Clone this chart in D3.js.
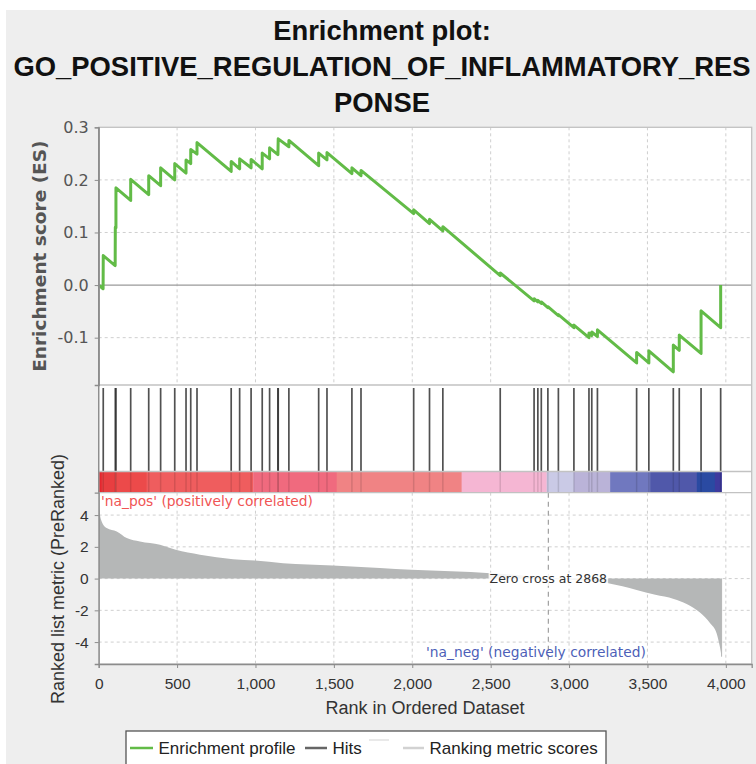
<!DOCTYPE html>
<html>
<head>
<meta charset="utf-8">
<title>Enrichment plot</title>
<script src="https://cdn.jsdelivr.net/npm/d3@7"></script>
<style>
body { margin: 0; background: #fff; }
svg { display: block; }
.grid line { stroke: #cfcfcf; stroke-dasharray: 3,3; }
.axis path, .axis line { stroke: #8c8c8c; }
.es-axis text { font: 16px "DejaVu Sans", sans-serif; fill: #555; }
.m-axis text { font: 15.5px "Liberation Sans", Arial, sans-serif; fill: #333; }
</style>
</head>
<body>
<svg id="chart" width="756" height="764"></svg>
<script>
// ---- data ----
var titleLines = ["Enrichment plot:", "GO_POSITIVE_REGULATION_OF_INFLAMMATORY_RES", "PONSE"];

// running enrichment score: rank, ES (before/after each hit)
var esRanks = [0, 28, 29, 105, 106, 110, 110, 204, 204, 319, 319, 395, 395, 485, 485, 557, 557, 587, 587, 627, 627,
  845, 845, 899, 899, 972, 972, 1043, 1043, 1090, 1090, 1143, 1145, 1213, 1213, 1403, 1403, 1456, 1456,
  1615, 1615, 1673, 1673, 2009, 2009, 2110, 2110, 2195, 2195, 2561, 2561, 2777, 2777, 2801, 2801, 2823, 2823,
  2865, 2865, 2932, 2932, 3031, 3031, 3127, 3127, 3145, 3145, 3181, 3181, 3431, 3431, 3509, 3509,
  3665, 3665, 3703, 3703, 3842, 3842, 3967, 3967];
var esScores = [0, -0.007, 0.056, 0.037, 0.11, 0.109, 0.185, 0.161, 0.201, 0.172, 0.208, 0.189, 0.223, 0.200, 0.231,
  0.213, 0.238, 0.231, 0.258, 0.249, 0.271, 0.216, 0.235, 0.221, 0.240, 0.223, 0.239, 0.221, 0.251, 0.240, 0.261,
  0.248, 0.278, 0.263, 0.275, 0.227, 0.251, 0.238, 0.252, 0.212, 0.223, 0.208, 0.218, 0.136, 0.143, 0.117, 0.125,
  0.103, 0.111, 0.018, 0.023, -0.030, -0.026, -0.032, -0.029, -0.035, -0.032, -0.043, -0.041, -0.058, -0.056,
  -0.081, -0.076, -0.100, -0.091, -0.096, -0.089, -0.098, -0.085, -0.148, -0.128, -0.148, -0.125,
  -0.165, -0.114, -0.124, -0.095, -0.130, -0.049, -0.081, 0.0];

// gene set members in the ranked list
var hitRanks = [29, 106, 110, 204, 319, 395, 485, 557, 587, 627, 845, 899, 972, 1043, 1090, 1143, 1145, 1213,
  1403, 1456, 1615, 1673, 2009, 2110, 2195, 2561, 2777, 2801, 2823, 2865, 2932, 3031, 3127, 3145, 3181,
  3431, 3509, 3665, 3703, 3842, 3967];

// ranked list metric
var metricRanks = [0, 8, 19, 51, 115, 179, 263, 391, 491, 646, 857, 997, 1176, 1492, 1794, 1994, 2500, 2730, 2868,
  3050, 3250, 3431, 3550, 3668, 3750, 3835, 3900, 3941, 3962, 3973];
var metricValues = [4.6, 4.0, 3.6, 3.18, 2.97, 2.55, 2.33, 2.13, 1.81, 1.5, 1.22, 1.14, 0.97, 0.82, 0.66, 0.55, 0.34, 0.17, 0,
  -0.1, -0.3, -0.72, -1.02, -1.28, -1.6, -2.14, -2.81, -3.44, -4.29, -4.92];

// colour bar under the hits
var barBreaks = [0, 19, 105, 306, 986, 1518, 2315, 2857, 3031, 3262, 3517, 3815, 3930, 3973];
var barColors = ["#e4262e", "#e83e40", "#ec4a4a", "#ef5d5e", "#f06a7e", "#f08384", "#f5b6d3", "#cacae6",
  "#bab3d8", "#7078bf", "#5058aa", "#2a4aa2", "#3e3a9e"];

var esTicks = [-0.1, 0, 0.1, 0.2, 0.3];
var metricTicks = [-4, -2, 0, 2, 4];
var rankTicks = [0, 500, 1000, 1500, 2000, 2500, 3000, 3500, 4000];
var zeroCross = 2868;
var legendItems = ["Enrichment profile", "Hits", "", "Ranking metric scores"];

// ---- layout ----
var L = 98.7, R = 751.7;
var esTop = 127.3, esBot = 385;
var barTop = 471.5, barBot = 492.7;
var mTop = 492.7, mBot = 664;

var svg = d3.select("#chart");

svg.append("rect").attr("x", 6).attr("y", 10).attr("width", 750).attr("height", 754).attr("fill", "#eeeeee");

var x = d3.scaleLinear().domain([0, 4165]).range([L, R]);
var yES = d3.scaleLinear().domain([-0.19, 0.3]).range([esBot, esTop]);
var yM = d3.scaleLinear().domain([-5.38, 5.41]).range([mBot, mTop]);

// title
svg.append("g").selectAll("text")
    .data(titleLines)
  .enter().append("text")
    .attr("x", 382)
    .attr("y", function(d, i) { return 40 + i * 36; })
    .attr("text-anchor", "middle")
    .style("font", "bold 27.4px 'Liberation Sans', Arial, sans-serif")
    .style("fill", "#111")
    .text(function(d) { return d; });

// white plot background
svg.append("rect").attr("x", L).attr("y", esTop).attr("width", R - L).attr("height", mBot - esTop).attr("fill", "#fff");

// grids
var gES = svg.append("g").attr("class", "grid");
gES.selectAll(".v").data(rankTicks.slice(1)).enter().append("line")
    .attr("x1", x).attr("x2", x).attr("y1", esTop).attr("y2", esBot);
gES.selectAll(".h").data([-0.1, 0.1, 0.2]).enter().append("line")
    .attr("x1", L).attr("x2", R).attr("y1", yES).attr("y2", yES);

var gM = svg.append("g").attr("class", "grid");
gM.selectAll(".v").data(rankTicks.slice(1)).enter().append("line")
    .attr("x1", x).attr("x2", x).attr("y1", mTop).attr("y2", mBot);
gM.selectAll(".h").data(metricTicks).enter().append("line")
    .attr("x1", L).attr("x2", R).attr("y1", yM).attr("y2", yM);

// ES zero line
svg.append("line").attr("x1", L).attr("x2", R).attr("y1", yES(0)).attr("y2", yES(0))
    .attr("stroke", "#9a9a9a").attr("stroke-width", 1.2);

// enrichment profile
var esLine = d3.line()
    .x(function(d, i) { return x(esRanks[i]); })
    .y(function(d) { return yES(d); });
svg.append("path")
    .attr("d", esLine(esScores))
    .attr("fill", "none")
    .attr("stroke", "#62bb47")
    .attr("stroke-width", 3)
    .attr("stroke-linejoin", "round");

// colour bar
svg.append("g").selectAll("rect")
    .data(barColors)
  .enter().append("rect")
    .attr("x", function(d, i) { return x(barBreaks[i]); })
    .attr("width", function(d, i) { return x(barBreaks[i + 1]) - x(barBreaks[i]) + 0.3; })
    .attr("y", barTop)
    .attr("height", barBot - barTop)
    .attr("fill", function(d) { return d; });

// hits
var gHits = svg.append("g");
gHits.selectAll(".hit").data(hitRanks).enter().append("line")
    .attr("x1", x).attr("x2", x).attr("y1", esBot + 3).attr("y2", barTop)
    .attr("stroke", "#333").attr("stroke-opacity", 0.85).attr("stroke-width", 1.7);
gHits.selectAll(".hitbar").data(hitRanks).enter().append("line")
    .attr("x1", x).attr("x2", x).attr("y1", barTop).attr("y2", barBot)
    .attr("stroke", "#000").attr("stroke-opacity", 0.12).attr("stroke-width", 1.5);

// ranked metric area
var area = d3.area()
    .x(function(d, i) { return x(metricRanks[i]); })
    .y0(yM(0))
    .y1(function(d) { return yM(d); })
    .curve(d3.curveMonotoneX);
svg.append("path")
    .attr("d", area(metricValues))
    .attr("fill", "#b5b7b7");
svg.append("line")
    .attr("x1", x(metricRanks[metricRanks.length - 1])).attr("x2", x(metricRanks[metricRanks.length - 1]))
    .attr("y1", yM(0)).attr("y2", yM(metricValues[metricValues.length - 1]))
    .attr("stroke", "#b5b7b7").attr("stroke-width", 1);

// zero cross
svg.append("line")
    .attr("x1", x(zeroCross)).attr("x2", x(zeroCross)).attr("y1", mTop).attr("y2", mBot)
    .attr("stroke", "#a0a0a0").attr("stroke-dasharray", "5,4").attr("stroke-width", 1.2);
var zc = svg.append("g");
var zcText = zc.append("text")
    .attr("x", x(zeroCross)).attr("y", yM(0) + 4.6)
    .attr("text-anchor", "middle")
    .style("font", "12.5px 'DejaVu Sans', sans-serif")
    .style("fill", "#333")
    .text("Zero cross at " + zeroCross);
var bb = zcText.node().getBBox();
zc.insert("rect", "text")
    .attr("x", bb.x - 1).attr("y", yM(0) - 6).attr("width", bb.width + 2).attr("height", 13.3)
    .attr("fill", "#fff").attr("fill-opacity", 0.85);

// panel borders
var borders = svg.append("g").attr("fill", "none").attr("stroke", "#c2c2c2").attr("stroke-width", 1.3);
borders.append("rect").attr("x", L).attr("y", esTop).attr("width", R - L).attr("height", mBot - esTop);
[esBot, barTop, barBot].forEach(function(yy) {
  borders.append("line").attr("x1", L).attr("x2", R).attr("y1", yy).attr("y2", yy);
});

// axes
svg.append("g")
    .attr("class", "axis es-axis")
    .attr("transform", "translate(" + L + ",0)")
    .call(d3.axisLeft(yES).tickValues(esTicks).tickSize(4).tickPadding(6)
      .tickFormat(function(d) { return d.toFixed(1); }));
svg.append("line").attr("x1", L).attr("x2", L).attr("y1", esTop).attr("y2", barBot)
    .attr("stroke", "#8c8c8c").attr("stroke-width", 1.3);

svg.append("g")
    .attr("class", "axis m-axis")
    .attr("transform", "translate(" + L + ",0)")
    .call(d3.axisLeft(yM).tickValues(metricTicks).tickSize(4).tickPadding(6)
      .tickFormat(function(d) { return String(d); }));
svg.append("g")
    .attr("class", "axis m-axis")
    .attr("transform", "translate(0," + mBot + ")")
    .call(d3.axisBottom(x).tickValues(rankTicks).tickSize(4).tickPadding(10)
      .tickFormat(d3.format(",")));
svg.selectAll(".axis .domain").attr("stroke-width", 1.3);

// axis labels
svg.append("text")
    .attr("transform", "translate(46," + (esTop + esBot) / 2 + ")rotate(-90)")
    .attr("text-anchor", "middle")
    .style("font", "bold 18.5px 'DejaVu Sans', sans-serif")
    .style("fill", "#555")
    .text("Enrichment score (ES)");
svg.append("text")
    .attr("transform", "translate(63.5,579)rotate(-90)")
    .attr("text-anchor", "middle")
    .style("font", "18px 'Liberation Sans', Arial, sans-serif")
    .style("fill", "#333")
    .text("Ranked list metric (PreRanked)");
svg.append("text")
    .attr("x", 425).attr("y", 713.5)
    .attr("text-anchor", "middle")
    .style("font", "18px 'Liberation Sans', Arial, sans-serif")
    .style("fill", "#333")
    .text("Rank in Ordered Dataset");

// correlation labels
svg.append("text")
    .attr("x", 101).attr("y", 506)
    .style("font", "13.8px 'DejaVu Sans', sans-serif")
    .style("fill", "#f05454")
    .text("'na_pos' (positively correlated)");
svg.append("text")
    .attr("x", 426).attr("y", 656.5)
    .style("font", "13.8px 'DejaVu Sans', sans-serif")
    .style("fill", "#4d5fb8")
    .text("'na_neg' (negatively correlated)");

// legend
var lg = svg.append("g");
lg.append("rect").attr("x", 126).attr("y", 731).attr("width", 480).attr("height", 50)
    .attr("fill", "#fff").attr("stroke", "#555").attr("stroke-width", 1.3);
var legendLines = [
  {x1: 130, x2: 153, y: 748, c: "#62bb47", w: 2.5},
  {x1: 305, x2: 327, y: 748, c: "#666", w: 2.5},
  {x1: 369, x2: 389, y: 740, c: "#e2e2e2", w: 1.5},
  {x1: 403, x2: 424, y: 748, c: "#d2d2d2", w: 2.5}
];
lg.selectAll("line").data(legendLines).enter().append("line")
    .attr("x1", function(d) { return d.x1; }).attr("x2", function(d) { return d.x2; })
    .attr("y1", function(d) { return d.y; }).attr("y2", function(d) { return d.y; })
    .attr("stroke", function(d) { return d.c; }).attr("stroke-width", function(d) { return d.w; });
lg.selectAll("text").data(legendItems).enter().append("text")
    .attr("x", function(d, i) { return legendLines[i].x2 + 5.5; })
    .attr("y", 754)
    .style("font", "17px 'Liberation Sans', Arial, sans-serif")
    .style("fill", "#222")
    .text(function(d) { return d; });
</script>
</body>
</html>
